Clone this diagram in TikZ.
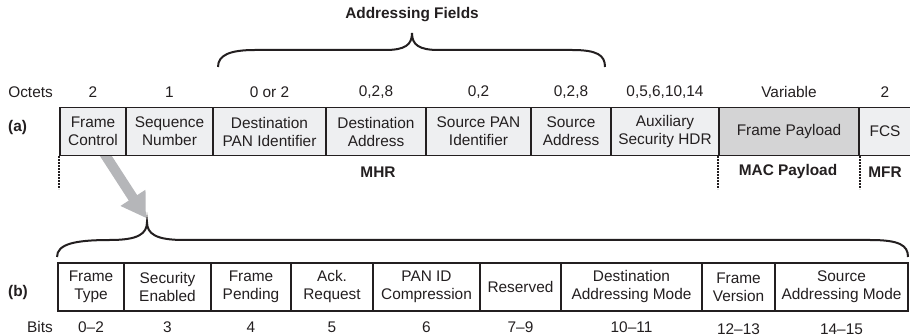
\documentclass[tikz,border=0pt]{standalone}
\usepackage{fontspec}
\setmainfont{Liberation Sans}
\usetikzlibrary{arrows.meta}
\definecolor{ink}{RGB}{35,31,32}
\definecolor{fillA}{RGB}{238,239,241}
\definecolor{fillPay}{RGB}{212,212,213}
\definecolor{arrowgray}{RGB}{181,182,185}
\newcommand{\fsz}{\fontsize{15.4}{18}\selectfont}
\tikzset{
  fieldA/.style={draw=ink, fill=fillA, line width=1.4pt, minimum height=48pt, inner sep=0pt, align=center, font=\fsz, text=ink},
  fieldB/.style={draw=ink, fill=white, line width=1.4pt, minimum height=48pt, inner sep=0pt, align=center, font=\fsz, text=ink},
  lbl/.style={inner sep=0pt, font=\fsz, text=ink},
  blbl/.style={inner sep=0pt, font=\fsz\bfseries, text=ink},
  bracepath/.style={draw=ink, line width=2pt},
  dotline/.style={draw=ink, line width=2.2pt, dash pattern=on 1.6pt off 1.4pt},
  bigarrow/.style={draw=arrowgray, line width=10pt, -{Triangle[length=24pt,width=28pt]}}
}
\begin{document}
\begin{tikzpicture}[x=1pt,y=-1pt]
\useasboundingbox (0,0) rectangle (910,336);
% big gray arrow (drawn first, below the boxes)
\coordinate (arrowstart) at (102,150);
\coordinate (arrowend) at (146,218);
\draw[bigarrow] (arrowstart) -- (arrowend);
% heading and top brace
\node[blbl] (addr) at (412,15) {Addressing Fields};
\coordinate (tbL) at (218,67);
\coordinate (tbT) at (412,33);
\coordinate (tbR) at (605,67);
\draw[bracepath] (tbL) .. controls (218,55) and (230,50) .. (255,50) -- (385,50)
  .. controls (405,50) and (412,45) .. (tbT)
  .. controls (412,45) and (419,50) .. (439,50) -- (572,50)
  .. controls (597,50) and (605,55) .. (tbR);
% octets row
\node[lbl, anchor=east] (octets) at (53,92) {Octets};
\node[lbl] (o1) at (93,92) {2};
\node[lbl] (o2) at (169.5,92) {1};
\node[lbl] (o3) at (269.5,92) {0 or 2};
\node[lbl] (o4) at (376,92) {0,2,8};
\node[lbl] (o5) at (478.5,92) {0,2};
\node[lbl] (o6) at (571,92) {0,2,8};
\node[lbl] (o7) at (665,92) {0,5,6,10,14};
\node[lbl] (o8) at (789,92) {Variable};
\node[lbl] (o9) at (885,92) {2};
% row (a)
\node[blbl, anchor=west] (la) at (8,128) {(a)};
\node[fieldA, minimum width=66pt]  (fc)   at (93,131.5)   {Frame\\Control};
\node[fieldA, minimum width=87pt]  (sn)   at (169.5,131.5) {Sequence\\Number};
\node[fieldA, minimum width=113pt] (dpan) at (269.5,131.5) {Destination\\PAN Identifier};
\node[fieldA, minimum width=100pt] (dadr) at (376,131.5)  {Destination\\Address};
\node[fieldA, minimum width=105pt] (span) at (478.5,131.5) {Source PAN\\Identifier};
\node[fieldA, minimum width=80pt]  (sadr) at (571,131.5)  {Source\\Address};
\node[fieldA, minimum width=108pt] (aux)  at (665,131.5)  {Auxiliary\\Security HDR};
\node[fieldA, fill=fillPay, minimum width=140pt] (pay) at (789,131.5) {Frame Payload};
\node[fieldA, minimum width=52pt]  (fcs)  at (885,131.5)  {FCS};
% dotted separators and section labels
\draw[dotline] (fc.south west) -- ++(0,33);
\draw[dotline] (pay.south west) -- ++(0,33);
\draw[dotline] (pay.south east) -- ++(0,33);
\node[blbl] (mhr) at (378,172) {MHR};
\node[blbl] (macp) at (788,172) {MAC Payload};
\node[blbl] (mfr) at (885,172) {MFR};
% bottom brace
\coordinate (bbL) at (57,257);
\coordinate (bbT) at (147,222);
\coordinate (bbR) at (908,257);
\draw[bracepath] (bbL) .. controls (57,244) and (75,240) .. (110,240)
  .. controls (138,240) and (147,234) .. (bbT)
  .. controls (147,234) and (156,240) .. (184,240) -- (870,240)
  .. controls (899,240) and (908,245) .. (bbR);
% row (b)
\node[blbl, anchor=west] (lb) at (8,293) {(b)};
\node[fieldB, minimum width=66pt]  (ft)  at (91,287)    {Frame\\Type};
\node[fieldB, minimum width=87pt]  (se)  at (167.5,287) {Security\\Enabled};
\node[fieldB, minimum width=80pt]  (fp)  at (251,287)   {Frame\\Pending};
\node[fieldB, minimum width=82pt]  (ar)  at (332,287)   {Ack.\\Request};
\node[fieldB, minimum width=107pt] (pc)  at (426.5,287) {PAN ID\\Compression};
\node[fieldB, minimum width=81pt]  (rs)  at (520.5,287) {Reserved};
\node[fieldB, minimum width=141pt] (dam) at (631.5,287) {Destination\\Addressing Mode};
\node[fieldB, minimum width=73pt]  (fv)  at (738.5,287) {Frame\\Version};
\node[fieldB, minimum width=133pt] (sam) at (841.5,287) {Source\\Addressing Mode};
% bits row
\node[lbl, anchor=east] (bits) at (53,327) {Bits};
\node[lbl] (b1) at (91,327) {0–2};
\node[lbl] (b2) at (167.5,327) {3};
\node[lbl] (b3) at (251,327) {4};
\node[lbl] (b4) at (332,327) {5};
\node[lbl] (b5) at (426.5,327) {6};
\node[lbl] (b6) at (520.5,327) {7–9};
\node[lbl] (b7) at (631.5,327) {10–11};
\node[lbl] (b8) at (738.5,329) {12–13};
\node[lbl] (b9) at (841.5,329) {14–15};
\end{tikzpicture}
\end{document}
